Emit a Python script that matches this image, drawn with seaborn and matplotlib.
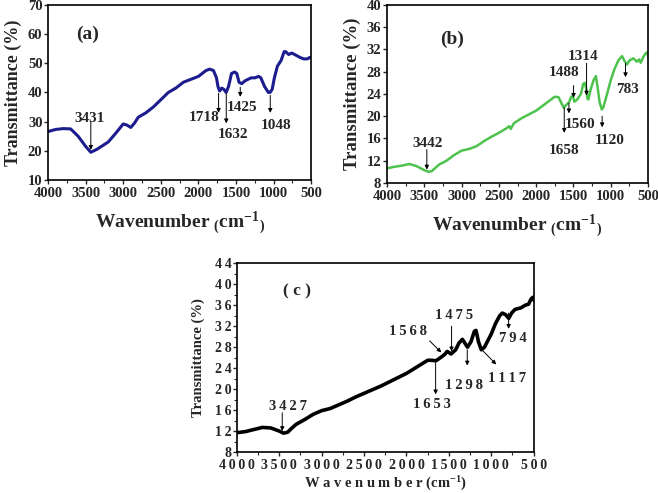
import pandas as pd
import numpy as np
import seaborn as sns
import matplotlib.pyplot as plt

sns.set_style("ticks")
plt.rcParams['font.family'] = ['Liberation Serif', 'DejaVu Serif']
plt.rcParams['font.weight'] = 'bold'
plt.rcParams['axes.labelweight'] = 'bold'
plt.rcParams['mathtext.fontset'] = 'custom'
plt.rcParams['mathtext.rm'] = 'Liberation Serif:bold'
plt.rcParams['mathtext.default'] = 'rm'

# ---- panel (a) ----
wn_a = [4000, 3900, 3800, 3700, 3600, 3500, 3431, 3350, 3200, 3100, 3000, 2950, 2900,
        2850, 2800, 2700, 2600, 2500, 2400, 2300, 2200, 2100, 2000, 1900, 1850, 1800,
        1760, 1740, 1718, 1690, 1660, 1632, 1600, 1560, 1520, 1490, 1460, 1425, 1380,
        1300, 1250, 1200, 1170, 1120, 1070, 1048, 1020, 990, 950, 900, 860, 840, 800,
        760, 720, 650, 600, 550, 520, 500]
tr_a = [26.6, 27.3, 27.6, 27.5, 25.0, 21.5, 19.5, 20.5, 23.0, 26.0, 29.2, 28.8, 28.0,
        29.5, 31.5, 33.0, 35.0, 37.5, 40.0, 41.5, 43.5, 44.5, 45.5, 47.5, 48.0, 47.5,
        45.0, 42.0, 40.5, 41.5, 41.0, 40.0, 42.0, 46.5, 47.0, 46.5, 43.5, 43.0, 44.0,
        45.0, 45.0, 45.5, 45.0, 42.0, 40.0, 40.0, 41.0, 45.0, 49.0, 51.0, 54.0, 54.0, 53.0,
        53.5, 53.0, 52.0, 51.5, 51.5, 52.0, 52.0]
peaks_a = ["3431", "1718", "1632", "1425", "1048"]

# ---- panel (b) ----
wn_b = [4000, 3900, 3800, 3700, 3600, 3500, 3442, 3400, 3300, 3200, 3100, 3000, 2900,
        2800, 2700, 2600, 2500, 2400, 2360, 2340, 2300, 2200, 2100, 2000, 1900, 1800,
        1750, 1700, 1660, 1630, 1600, 1560, 1530, 1510, 1488, 1450, 1400, 1370, 1350,
        1330, 1314, 1300, 1270, 1230, 1200, 1180, 1150, 1120, 1100, 1050, 1000, 950, 900,
        850, 820, 783, 750, 700, 650, 620, 600, 570, 540, 510, 500]
tr_b = [10.6, 10.9, 11.1, 11.4, 11.0, 10.3, 10.0, 10.1, 11.3, 12.0, 13.0, 13.8, 14.1,
        14.6, 15.5, 16.3, 17.0, 17.8, 18.2, 17.7, 18.7, 19.6, 20.3, 21.0, 22.0, 23.0,
        23.5, 23.4, 22.3, 21.5, 22.0, 22.5, 23.5, 23.6, 22.6, 23.0, 24.0, 25.8, 26.0,
        25.0, 23.2, 23.0, 24.8, 26.5, 27.2, 25.5, 22.5, 21.2, 21.6, 24.0, 26.5, 28.5, 30.0,
        30.8, 30.0, 29.3, 30.0, 30.4, 29.8, 30.2, 29.6, 30.5, 31.2, 31.5, 30.8]
peaks_b = ["3442", "1658", "1560", "1488", "1314", "1120", "783"]

# ---- panel (c) ----
wn_c = [4000, 3900, 3800, 3700, 3600, 3500, 3450, 3400, 3350, 3300, 3200, 3100, 3000,
        2900, 2800, 2700, 2600, 2500, 2400, 2300, 2200, 2100, 2000, 1900, 1800, 1750,
        1700, 1653, 1600, 1550, 1520, 1500, 1475, 1420, 1380, 1340, 1300, 1280, 1240,
        1200, 1180, 1150, 1117, 1080, 1000, 950, 900, 870, 830, 794, 760, 720, 650, 600,
        560, 530, 510, 500]
tr_c = [11.7, 11.9, 12.3, 12.7, 12.6, 12.0, 11.6, 11.8, 12.6, 13.3, 14.2, 15.2, 15.9,
        16.3, 17.0, 17.7, 18.5, 19.2, 19.9, 20.6, 21.4, 22.2, 23.0, 24.0, 25.0, 25.5,
        25.5, 25.4, 26.0, 26.6, 27.2, 27.0, 26.7, 27.5, 28.8, 29.5, 28.5, 28.0, 29.0,
        31.0, 31.2, 29.0, 27.5, 28.0, 30.5, 32.5, 34.0, 34.5, 34.2, 33.5, 34.5, 35.2, 35.5,
        36.0, 36.2, 37.2, 37.5, 37.0]
peaks_c = ["3427", "1653", "1568", "1475", "1298", "1117", "794"]

df_a = pd.DataFrame({"wn": wn_a, "T": tr_a})
df_b = pd.DataFrame({"wn": wn_b, "T": tr_b})
df_c = pd.DataFrame({"wn": wn_c, "T": tr_c})

fig = plt.figure(figsize=(6.58, 4.93), dpi=100)
ax_a = fig.add_axes([0.073, 0.635, 0.400, 0.355])
ax_b = fig.add_axes([0.588, 0.629, 0.397, 0.361])
ax_c = fig.add_axes([0.360, 0.083, 0.451, 0.383])

sns.lineplot(data=df_a, x="wn", y="T", ax=ax_a, color="#1c1c8f", lw=2.2, sort=False)
sns.lineplot(data=df_b, x="wn", y="T", ax=ax_b, color="#4dc24d", lw=1.8, sort=False)
sns.lineplot(data=df_c, x="wn", y="T", ax=ax_c, color="black", lw=2.6, sort=False)

arr = dict(arrowstyle='-|>', color='black', lw=0.7, mutation_scale=6, shrinkA=0, shrinkB=0)

def mark(ax, label, tx, ty, ax0, ay0, ax1, ay1, fs):
    ax.annotate("", xy=(ax1, ay1), xytext=(ax0, ay0), arrowprops=arr)
    ax.text(tx, ty, label, ha='center', va='center', fontsize=fs, fontweight='bold')

xlab = "Wavenumber $_{(}$cm$^{-1}$$_{)}$"

# (a)
ax_a.set_xlim(4000, 500)
ax_a.set_ylim(10, 70)
ax_a.set_yticks(range(10, 71, 10))
ax_a.set_xticks(range(4000, 499, -500))
ax_a.set_xticks(range(3750, 500, -500), minor=True)
ax_a.tick_params(labelsize=10.5, length=3, width=1, pad=1)
ax_a.tick_params(axis='x', pad=2)
ax_a.tick_params(which='minor', length=2, width=0.8)
ax_a.set_ylabel("Transmittance (%)", fontsize=13)
ax_a.set_xlabel(xlab, fontsize=14, labelpad=7)
ax_a.text(3470, 60, "(a)", ha='center', va='center', fontsize=14, fontweight='bold')
pos_a = [(3446, 31.0, 3431, 30, 3431, 20.3),
         (1918, 31.5, 1732, 39.7, 1732, 33.0),
         (1541, 25.7, 1630, 39.7, 1630, 29.4),
         (1417, 35.0, 1444, 41.8, 1444, 38.5),
         (965, 28.5, 1045, 39.0, 1045, 33.0)]
for lab, p in zip(peaks_a, pos_a):
    mark(ax_a, lab, *p, fs=11)

# (b)
ax_b.set_xlim(4000, 500)
ax_b.set_ylim(8, 40)
ax_b.set_yticks(range(8, 41, 4))
ax_b.set_xticks(range(4000, 499, -500))
ax_b.set_xticks(range(3750, 500, -500), minor=True)
ax_b.tick_params(labelsize=10.5, length=3, width=1, pad=1)
ax_b.tick_params(axis='x', pad=2)
ax_b.tick_params(which='minor', length=2, width=0.8)
ax_b.set_ylabel("Transmittance (%)", fontsize=13.5)
ax_b.set_xlabel(xlab, fontsize=14, labelpad=7)
ax_b.text(3131, 33.8, "(b)", ha='center', va='center', fontsize=14, fontweight='bold')
pos_b = [(3452, 15.1, 3465, 14.0, 3465, 10.4),
         (1628, 13.9, 1624, 21.5, 1624, 17.0),
         (1414, 18.5, 1561, 22.3, 1561, 20.5),
         (1624, 27.9, 1499, 25.5, 1499, 23.3),
         (1369, 30.8, 1325, 29.5, 1325, 23.7),
         (1013, 15.7, 1116, 20.0, 1116, 18.0),
         (777, 24.8, 803, 29.5, 803, 27.0)]
for lab, p in zip(peaks_b, pos_b):
    mark(ax_b, lab, *p, fs=11)

# (c) - letter spaced text
sp = "\u2009"
ax_c.set_xlim(4000, 500)
ax_c.set_ylim(8, 44)
ax_c.set_yticks(range(8, 45, 4))
ax_c.set_yticklabels([sp.join(str(v)) for v in range(8, 45, 4)])
ax_c.set_xticks(range(4000, 499, -500))
ax_c.set_xticklabels([sp.join(str(v)) for v in range(4000, 499, -500)])
ax_c.set_yticks(range(10, 44, 4), minor=True)
ax_c.set_xticks(range(3750, 500, -500), minor=True)
ax_c.tick_params(labelsize=10, length=3, width=1, pad=1)
ax_c.tick_params(axis='x', pad=2)
ax_c.tick_params(which='minor', length=2, width=0.8)
ax_c.set_ylabel("Transmittance (%)", fontsize=10.5, labelpad=7)
ax_c.set_xlabel(" ".join("Wavenumber") + " (cm$^{-1}$)", fontsize=10.5, labelpad=2)
ax_c.text(3288, 38.7, "( c )", ha='center', va='center', fontsize=12.5, fontweight='bold')
pos_c = [(3398, 16.6, 3465, 15.5, 3465, 12.0),
         (1695, 17.0, 1656, 25.0, 1656, 19.0),
         (1983, 31.0, 1727, 29.2, 1589, 27.0),
         (1444, 34.0, 1468, 32.0, 1468, 27.2),
         (1322, 20.7, 1283, 27.5, 1283, 24.5),
         (815, 22.1, 1098, 27.3, 941, 24.7),
         (744, 29.7, 795, 34.5, 795, 31.5)]
for lab, p in zip(peaks_c, pos_c):
    mark(ax_c, sp.join(lab), *p, fs=10.5)

for ax in (ax_a, ax_b, ax_c):
    for s in ax.spines.values():
        s.set_linewidth(1.2)
        s.set_color('black')

fig.savefig("out.png", dpi=100)
